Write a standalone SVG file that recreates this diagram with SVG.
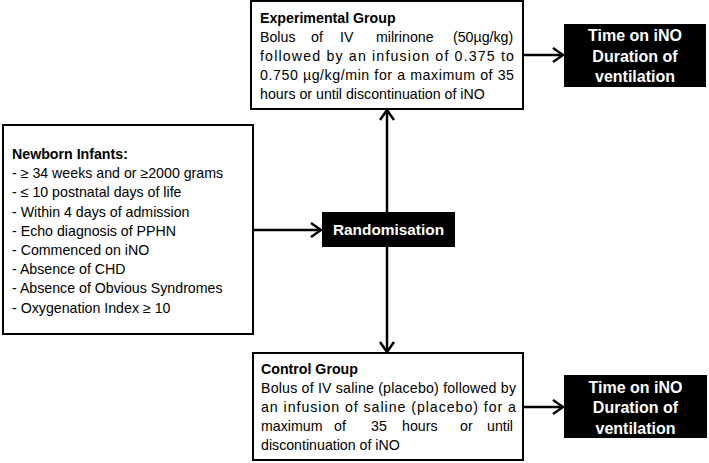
<svg xmlns="http://www.w3.org/2000/svg" width="709" height="463" viewBox="0 0 709 463">
<style>
.box{fill:#fff;stroke:#000;stroke-width:2}
.blk{fill:#000;stroke:none}
.t{font-family:"Liberation Sans",Arial,sans-serif;font-size:14.2px;fill:#000}
.b{font-weight:bold}
.w{font-family:"Liberation Sans",Arial,sans-serif;font-weight:bold;fill:#fff;text-anchor:middle}
.c{stroke:#000;stroke-width:2.5;fill:none}
</style>
<defs>
<marker id="arr" viewBox="0 0 12 16" refX="11" refY="8" markerWidth="12" markerHeight="16" markerUnits="userSpaceOnUse" orient="auto">
<path d="M1,1 L11,8 L1,15" fill="none" stroke="#000" stroke-width="2.5"/>
</marker>
</defs>
<rect width="709" height="463" fill="#fff"/>
<g id="connectors">
<line class="c" x1="253" y1="230" x2="321" y2="230" marker-end="url(#arr)"/>
<line class="c" x1="387" y1="212" x2="387" y2="110" marker-end="url(#arr)"/>
<line class="c" x1="387" y1="247" x2="387" y2="352" marker-end="url(#arr)"/>
<line class="c" x1="523" y1="55" x2="563" y2="55" marker-end="url(#arr)"/>
<line class="c" x1="523" y1="407" x2="563" y2="407" marker-end="url(#arr)"/>
</g>
<g id="experimental">
<rect class="box" x="251" y="1" width="272" height="108"/>
<text class="t b" x="260" y="23">Experimental Group</text>
<text class="t" y="42"><tspan x="260">Bolus</tspan><tspan x="311">of</tspan><tspan x="340">IV</tspan><tspan x="376">milrinone</tspan><tspan x="453">(50µg/kg)</tspan></text>
<text class="t" x="260" y="61" textLength="254" lengthAdjust="spacing">followed by an infusion of 0.375 to</text>
<text class="t" x="260" y="80" textLength="254" lengthAdjust="spacing">0.750 µg/kg/min for a maximum of 35</text>
<text class="t" x="260" y="99">hours or until discontinuation of iNO</text>
</g>
<g id="outcome-top">
<rect class="blk" x="564" y="24" width="142" height="63"/>
<text class="w" font-size="16" x="635" y="41">Time on iNO</text>
<text class="w" font-size="16" x="635" y="62">Duration of</text>
<text class="w" font-size="16" x="635" y="82">ventilation</text>
</g>
<g id="newborn">
<rect class="box" x="3" y="125" width="250" height="209"/>
<text class="t b" x="12" y="159">Newborn Infants:</text>
<text class="t" x="12" y="178">- ≥ 34 weeks and or ≥2000 grams</text>
<text class="t" x="12" y="197">- ≤ 10 postnatal days of life</text>
<text class="t" x="12" y="217">- Within 4 days of admission</text>
<text class="t" x="12" y="236">- Echo diagnosis of PPHN</text>
<text class="t" x="12" y="255">- Commenced on iNO</text>
<text class="t" x="12" y="274">- Absence of CHD</text>
<text class="t" x="12" y="293">- Absence of Obvious Syndromes</text>
<text class="t" x="12" y="313">- Oxygenation Index ≥ 10</text>
</g>
<g id="randomisation">
<rect class="blk" x="322" y="212" width="133" height="35"/>
<text class="w" font-size="15.4" x="388.5" y="235">Randomisation</text>
</g>
<g id="control">
<rect class="box" x="253" y="353" width="270" height="107"/>
<text class="t b" x="261" y="374">Control Group</text>
<text class="t" x="261" y="393" textLength="255" lengthAdjust="spacing">Bolus of IV saline (placebo) followed by</text>
<text class="t" x="261" y="412" textLength="255" lengthAdjust="spacing">an infusion of  saline (placebo) for a</text>
<text class="t" y="431"><tspan x="261">maximum</tspan><tspan x="334">of</tspan><tspan x="371">35</tspan><tspan x="402">hours</tspan><tspan x="460">or</tspan><tspan x="487">until</tspan></text>
<text class="t" x="261" y="450">discontinuation of iNO</text>
</g>
<g id="outcome-bottom">
<rect class="blk" x="564" y="375" width="143" height="63"/>
<text class="w" font-size="16" x="635.5" y="393">Time on iNO</text>
<text class="w" font-size="16" x="635.5" y="413">Duration of</text>
<text class="w" font-size="16" x="635.5" y="434">ventilation</text>
</g>
</svg>
